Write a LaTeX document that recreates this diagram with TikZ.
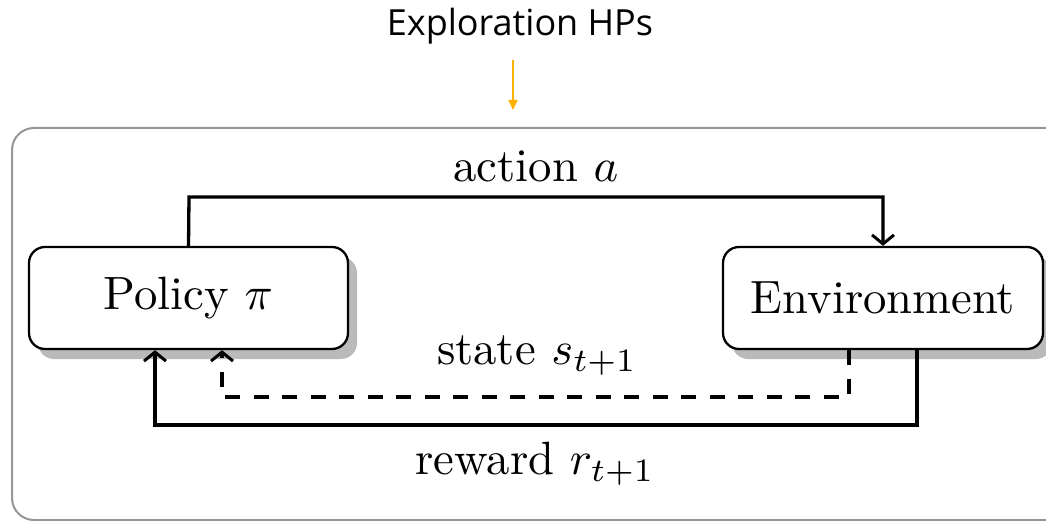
\documentclass[tikz,border=0pt]{standalone}
\usepackage{fontspec}
\newfontfamily\labelsans{Open Sans}
\usetikzlibrary{arrows.meta,shadows}
\definecolor{hpyellow}{RGB}{255,176,0}
\definecolor{framegray}{RGB}{150,150,150}
% text is set at 10pt and enlarged, so that the 10pt design of the font is kept
\newcommand{\bigtxt}[1]{\scalebox{4.67}{#1}}
\tikzset{
  agentbox/.style={draw=black, line width=2.3pt, rounded corners=16pt, fill=white,
    minimum height=102pt, inner sep=0pt,
    drop shadow={shadow xshift=9pt, shadow yshift=-10pt, fill=black!27, opacity=1}},
  flow/.style={line width=3.3pt, -{Straight Barb[length=9pt,width=22pt,line width=3pt]}},
  dashflow/.style={flow, dash pattern=on 15pt off 13.5pt},
}
\begin{document}
\begin{tikzpicture}[x=1pt,y=-1pt]
  \useasboundingbox (0,0) rectangle (1046,521);
  \clip (0,0) rectangle (1046,521);

  % outer frame, running past the right and bottom edges
  \draw[framegray, line width=2pt, rounded corners=22pt] (12,128) rectangle (1080,520);

  % exploration hyper-parameters feeding into the loop
  \node[font=\labelsans\fontsize{36}{42}\selectfont] (hp) at (520,26) {Exploration HPs};
  \coordinate (hpend) at (513,110);
  \draw[hpyellow, line width=2pt, -{Triangle[length=10pt,width=9pt]}] (513,60) -- (hpend);

  % agent and environment
  \node[agentbox, minimum width=319pt] (policy) at (188.5,298) {\bigtxt{Policy $\pi$}};
  \node[agentbox, minimum width=320pt] (env) at (883,298) {\bigtxt{Environment}};

  % action
  \draw[flow] (policy.north) -- (189,197) -- (883,197) -- (env.north);
  \node (alabel) at (536,166) {\bigtxt{action $a$}};

  % state (dashed)
  \draw[dashflow] ([xshift=-34pt]env.south) -- (849,397) -- (222,397) -- ([xshift=33.5pt]policy.south);
  \node (slabel) at (537,356) {\bigtxt{state $s_{t+1}$}};

  % reward
  \draw[flow] ([xshift=34pt]env.south) -- (917,425) -- (155,425) -- ([xshift=-33.5pt]policy.south);
  \node (rlabel) at (535,464) {\bigtxt{reward $r_{t+1}$}};
\end{tikzpicture}
\end{document}
